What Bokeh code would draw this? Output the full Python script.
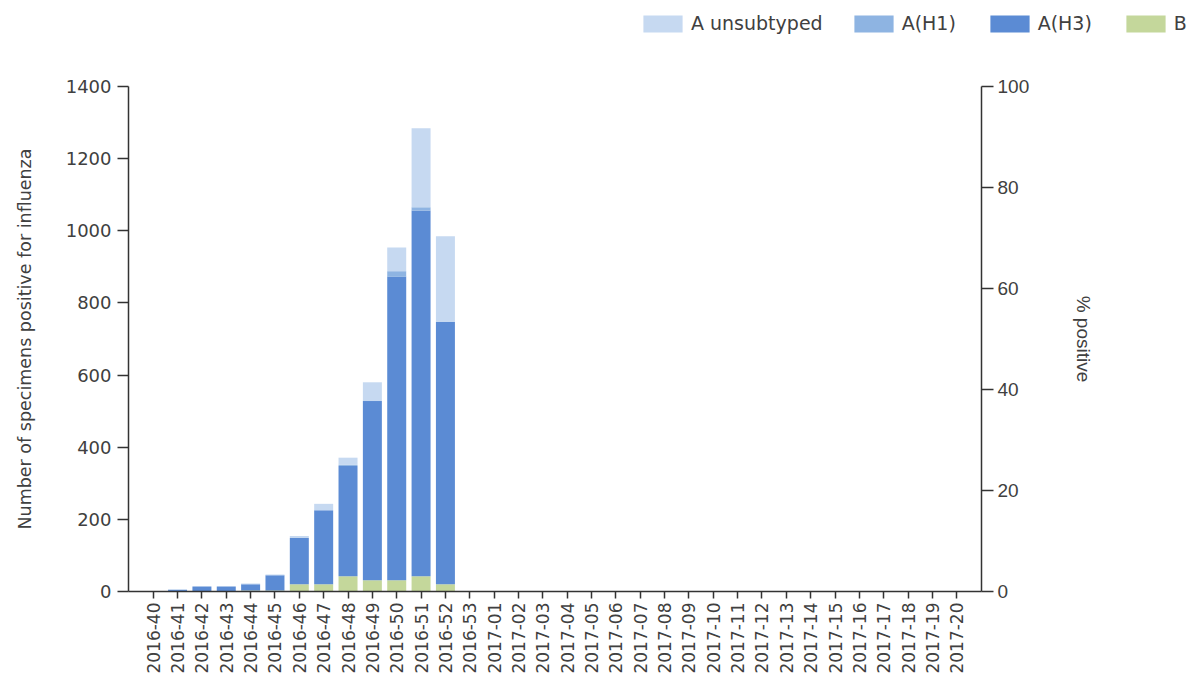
import math
from bokeh.plotting import figure
from bokeh.layouts import column
from bokeh.models import (FactorRange, Range1d, LinearAxis, Legend, LegendItem,
                          FixedTicker, ColumnDataSource)
from bokeh.embed import file_html
from bokeh.resources import INLINE

weeks = ([f"2016-{w}" for w in range(40, 54)] +
         [f"2017-{w:02d}" for w in range(1, 21)])

b_vals =     [0, 0, 0, 1, 3, 3, 20, 20, 42, 31, 31, 42, 20] + [0] * 21
h3_vals =    [0, 5, 14, 13, 17, 42, 128, 205, 306, 497, 842, 1014, 727] + [0] * 21
h1_vals =    [0, 0, 0, 0, 0, 0, 0, 0, 3, 0, 15, 9, 0] + [0] * 21
unsub_vals = [0, 1, 0, 0, 2, 2, 6, 18, 20, 52, 66, 219, 238] + [0] * 21

series = ["B", "A(H3)", "A(H1)", "A unsubtyped"]
colors = ["#c4d79b", "#5b8bd4", "#8eb4e2", "#c6d9f1"]

TOTAL_W = 1190
LEG_H = 40

source = ColumnDataSource(dict(week=weeks, B=b_vals, H3=h3_vals, H1=h1_vals, U=unsub_vals))

p = figure(x_range=FactorRange(factors=weeks, range_padding=0.0303, range_padding_units="percent"),
           y_range=Range1d(0, 1400),
           frame_width=853, frame_height=505,
           min_border_left=128, min_border_top=86 - LEG_H,
           min_border_right=TOTAL_W - 128 - 853, min_border_bottom=80,
           output_backend="svg", toolbar_location=None, tools="")
p.frame_align = False

rs = p.vbar_stack(["B", "H3", "H1", "U"], x="week", width=0.78, source=source,
                  color=colors, line_color=None)

p.grid.visible = False
p.outline_line_color = None

axis_color = "#333333"
label_color = "#404040"

# left axis
yl = p.yaxis[0]
yl.ticker = FixedTicker(ticks=[0, 200, 400, 600, 800, 1000, 1200, 1400])
yl.axis_label = "Number of specimens positive for influenza"
yl.axis_label_text_font = "DejaVu Sans"
yl.axis_label_text_font_size = "17.5px"
yl.axis_label_text_font_style = "normal"
yl.axis_label_text_color = label_color
yl.axis_label_standoff = 28
yl.major_label_text_font = "DejaVu Sans"
yl.major_label_text_font_size = "18px"
yl.major_label_text_color = label_color
yl.axis_line_color = axis_color
yl.axis_line_width = 1.5
yl.major_tick_line_color = axis_color
yl.major_tick_line_width = 1.5
yl.major_tick_out = 11
yl.major_tick_in = 0
yl.minor_tick_line_color = None
yl.major_label_standoff = 6

# bottom axis
xa = p.xaxis[0]
xa.major_label_orientation = math.pi / 2
xa.major_label_text_font = "DejaVu Sans"
xa.major_label_text_font_size = "17px"
xa.major_label_text_color = label_color
xa.axis_line_color = axis_color
xa.axis_line_width = 1.5
xa.major_tick_line_color = axis_color
xa.major_tick_line_width = 1.5
xa.major_tick_out = 7
xa.major_tick_in = 0
xa.major_label_standoff = 4

# right axis
p.extra_y_ranges = {"pct": Range1d(0, 100)}
yr = LinearAxis(y_range_name="pct")
yr.ticker = FixedTicker(ticks=[0, 20, 40, 60, 80, 100])
yr.axis_label = "% positive"
yr.axis_label_text_font = "Liberation Sans"
yr.axis_label_text_font_size = "19px"
yr.axis_label_text_font_style = "normal"
yr.axis_label_text_color = label_color
yr.axis_label_standoff = 41
yr.major_label_text_font = "Liberation Sans"
yr.major_label_text_font_size = "19px"
yr.major_label_text_color = label_color
yr.axis_line_color = axis_color
yr.axis_line_width = 1.5
yr.major_tick_line_color = axis_color
yr.major_tick_line_width = 1.5
yr.major_tick_out = 12
yr.major_tick_in = 0
yr.minor_tick_line_color = None
yr.major_label_standoff = 4
p.add_layout(yr, "right")

# legend strip above the chart (its own full-width frame)
lf = figure(width=TOTAL_W, height=LEG_H, x_range=Range1d(0, 1), y_range=Range1d(0, 1),
            min_border=0, x_axis_location=None, y_axis_location=None,
            output_backend="svg", toolbar_location=None, tools="")
lf.frame_align = False
lf.grid.visible = False
lf.outline_line_color = None
# swatch-only renderers (zero-size marks, used solely for legend swatches)
dummy = [lf.vbar(x=[0], top=[0], bottom=[0], width=0, color=c, line_color=None) for c in colors]
items = [LegendItem(label=series[i], renderers=[dummy[i]]) for i in [3, 2, 1, 0]]
legend = Legend(items=items, orientation="horizontal", location=(638, 6),
                glyph_width=49, glyph_height=21, label_height=21, label_width=57,
                label_standoff=4, spacing=26, padding=0, margin=0,
                label_text_font="DejaVu Sans", label_text_font_size="19px",
                label_text_color=label_color, label_text_baseline="middle",
                border_line_color=None, background_fill_alpha=0)
lf.add_layout(legend, "center")

layout = column(lf, p, spacing=0)
open("out.html", "w").write(file_html(layout, INLINE))
